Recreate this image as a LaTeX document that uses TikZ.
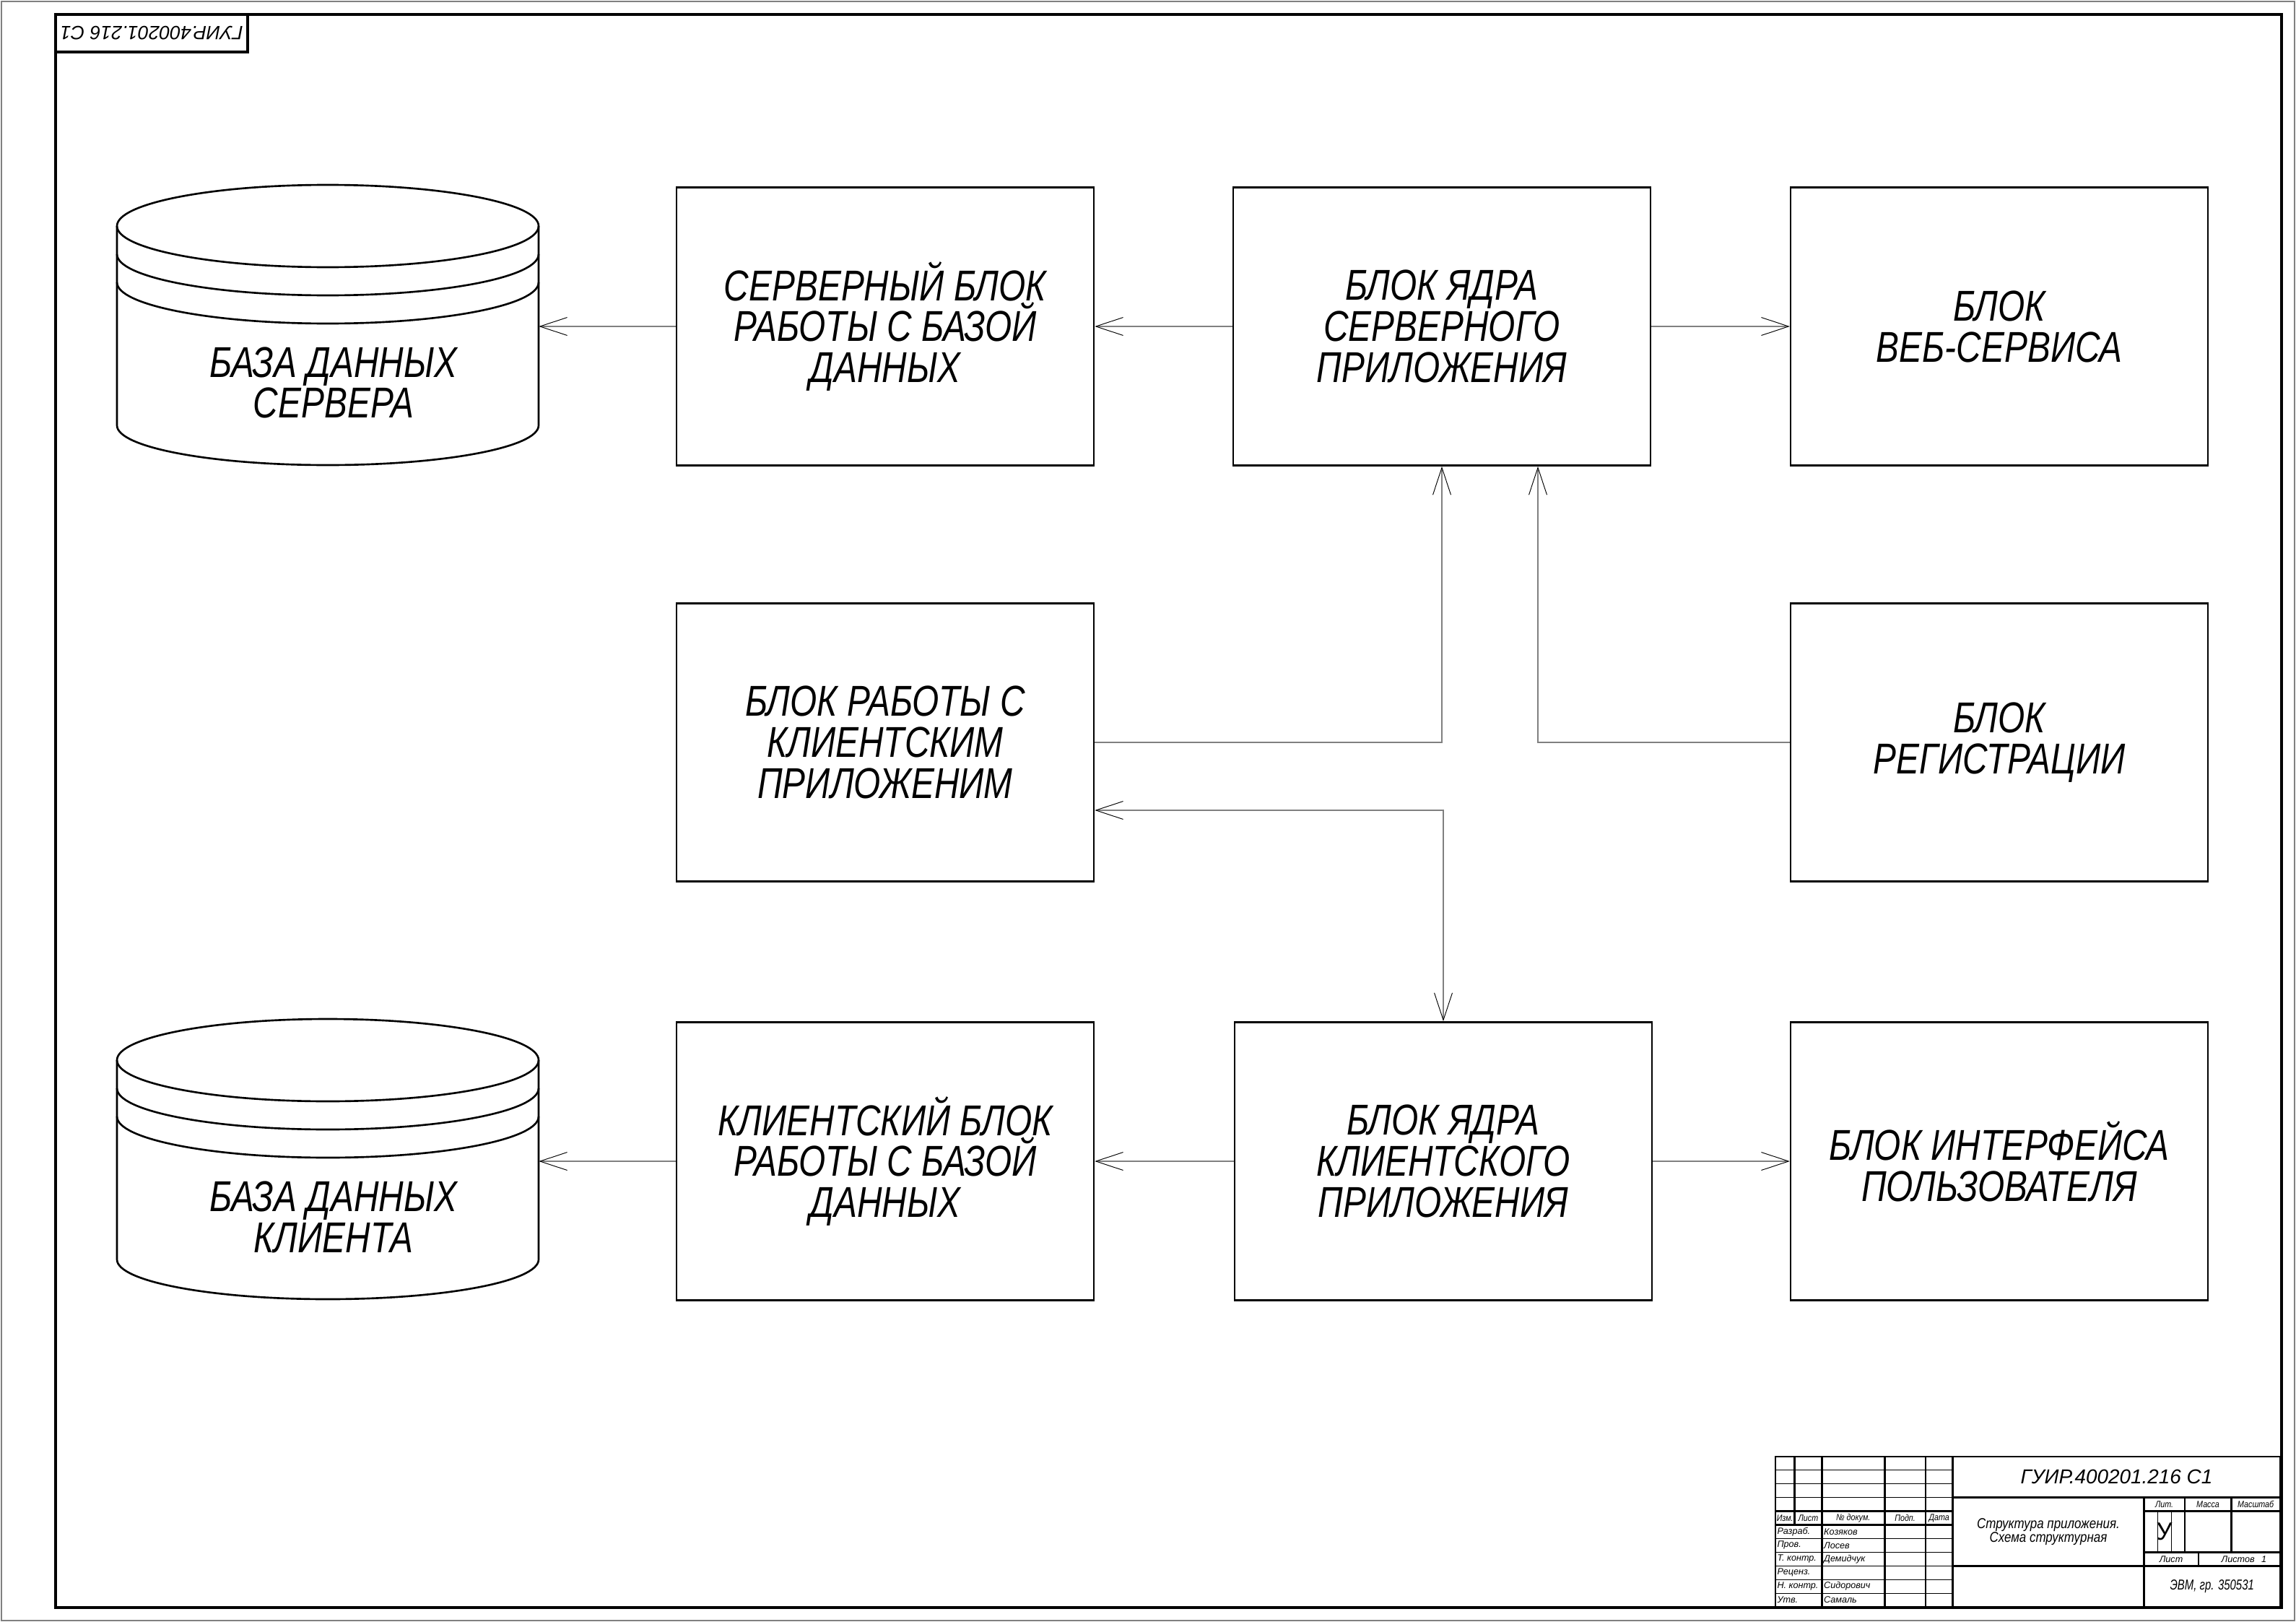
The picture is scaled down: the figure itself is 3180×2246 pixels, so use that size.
\documentclass[tikz,border=0pt]{standalone}
\usepackage{fontspec}
\setmainfont{Liberation Sans}
\newfontfamily\blockfont[FakeStretch=0.8]{Liberation Sans}
\newfontfamily\narrowfont[FakeStretch=0.85]{Liberation Sans}
\newfontfamily\tightfont[FakeStretch=0.75]{Liberation Sans}
\usepackage{tikz}
\usetikzlibrary{arrows.meta, calc}
\tikzset{
  openv/.tip={Straight Barb[length=10mm, width=6.6mm, line width=0.25mm, color=black]},
  block/.style={draw, line width=0.7mm, minimum width=152.9mm, minimum height=101.9mm, inner sep=0pt, align=center, font=\blockfont\itshape\fontsize{45}{42.8}\selectfont},
  dbtext/.style={minimum width=150.3mm, inner sep=0pt, align=center, font=\blockfont\itshape\fontsize{45}{42.8}\selectfont},
  dbline/.style={line width=0.7mm},
  link/.style={draw=gray, line width=0.35mm, -openv},
  duallink/.style={draw=gray, line width=0.35mm, openv-openv},
  thickln/.style={line width=0.7mm},
  thinln/.style={line width=0.25mm},
  cell/.style={inner sep=0.4mm, font=\itshape\fontsize{9.5}{10}\selectfont},
  headcell/.style={inner sep=0.2mm, font=\narrowfont\itshape\fontsize{9.5}{10}\selectfont}
}

\begin{document}
\begin{tikzpicture}[x=0.2646mm, y=-0.2646mm]
\useasboundingbox (0,0) rectangle (3180,2246);
\draw [gray, line width=0.4mm] (2,2) rectangle (3178,2244);
\draw [line width=0.9mm] (77,20) rectangle (3160,2226);
\draw [line width=0.9mm] (77,20) rectangle (343,72);
\node [rotate=180, font=\itshape\fontsize{20}{20}\selectfont] (stampcode) at (210,46) {ГУИР.400201.216 С1};

\node [block] (srvdb) at (1226,452) {СЕРВЕРНЫЙ БЛОК\\РАБОТЫ С БАЗОЙ\\ДАННЫХ};
\node [block] (srvcore) at (1997,452) {БЛОК ЯДРА\\СЕРВЕРНОГО\\ПРИЛОЖЕНИЯ};
\node [block] (websrv) at (2769,452) {БЛОК\\ВЕБ-СЕРВИСА};
\node [block] (cliapp) at (1226,1028) {БЛОК РАБОТЫ С\\КЛИЕНТСКИМ\\ПРИЛОЖЕНИМ};
\node [block] (reg) at (2769,1028) {БЛОК\\РЕГИСТРАЦИИ};
\node [block] (clidb) at (1226,1608) {КЛИЕНТСКИЙ БЛОК\\РАБОТЫ С БАЗОЙ\\ДАННЫХ};
\node [block] (clicore) at (1999,1608) {БЛОК ЯДРА\\КЛИЕНТСКОГО\\ПРИЛОЖЕНИЯ};
\node [block] (ui) at (2769,1608) {БЛОК ИНТЕРФЕЙСА\\ПОЛЬЗОВАТЕЛЯ};

\foreach \dy/\nm/\txt in {0/srvbase/СЕРВЕРА, 1155/clibase/КЛИЕНТА} {
  \draw [dbline] (454,313+\dy) ellipse [x radius=292, y radius=57];
  \draw [dbline] (162,352+\dy) arc [start angle=180, end angle=0, x radius=292, y radius=57];
  \draw [dbline] (162,391+\dy) arc [start angle=180, end angle=0, x radius=292, y radius=57];
  \draw [dbline] (162,313+\dy) -- (162,589+\dy) arc [start angle=180, end angle=0, x radius=292, y radius=55] -- (746,313+\dy);
  \node [dbtext] (\nm) at (462,530+\dy) {БАЗА ДАННЫХ\\\txt};
}

\draw [link] (srvdb.west) -- (srvdb.west -| srvbase.east);
\draw [link] (srvcore.west) -- (srvdb.east);
\draw [link] (srvcore.east) -- (websrv.west);
\draw [link] (cliapp.east) -| (srvcore.south);
\draw [link] (reg.west) -| ($(srvcore.south)+(133,0)$);
\draw [duallink] ($(cliapp.east)+(0,94)$) -| (clicore.north);
\draw [link] (clicore.west) -- (clidb.east);
\draw [link] (clidb.west) -- (clidb.west -| clibase.east);
\draw [link] (clicore.east) -- (ui.west);

\begin{scope}[shift={(2459,2017)}, x=1mm, y=-1mm]
\draw [thickln] (0,0) rectangle (185,55);
\draw [thickln] (7,0) -- (7,25);
\foreach \xx in {17,40,55,65} \draw [thickln] (\xx,0) -- (\xx,55);
\foreach \yy in {5,10,15,30,35,40,45,50} \draw [thinln] (0,\yy) -- (65,\yy);
\draw [thickln] (0,20) -- (65,20);
\draw [thickln] (0,25) -- (65,25);
\draw [thickln] (65,15) -- (185,15);
\draw [thickln] (65,40) -- (185,40);
\draw [thickln] (135,15) -- (135,55);
\draw [thickln] (135,20) -- (185,20);
\draw [thickln] (135,35) -- (185,35);
\draw [thickln] (150,15) -- (150,35);
\draw [thickln] (167,15) -- (167,35);
\draw [thinln] (140,20) -- (140,35);
\draw [thinln] (145,20) -- (145,35);
\draw [thickln] (155,35) -- (155,40);
\node [headcell] (hizm) at (3.5,22.5) {Изм.};
\node [headcell] (hlist) at (12,22.5) {Лист};
\node [headcell] (hdoc) at (28.5,22.5) {№ докум.};
\node [headcell] (hsign) at (47.5,22.5) {Подп.};
\node [headcell] (hdate) at (60,22.5) {Дата};
\foreach \i/\role/\who in {1/Разраб./Козяков, 2/Пров./Лосев, 3/Т. контр./Демидчук, 4/Реценз./{}, 5/Н. контр./Сидорович, 6/Утв./Самаль} {
  \node [cell, anchor=west] (role\i) at (0.2,22.5+5*\i) {\role};
  \node [cell, anchor=west] (who\i) at (17.3,22.5+5*\i) {\who};
}
\node [font=\itshape\fontsize{21}{21}\selectfont] (tbcode) at (125,7.5) {ГУИР.400201.216 С1};
\node [align=center, font=\narrowfont\itshape\fontsize{15}{14}\selectfont] (tbtitle) at (100,27.5) {Структура приложения.\\Схема структурная};
\node [headcell] (hlit) at (142.5,17.5) {Лит.};
\node [headcell] (hmass) at (158.5,17.5) {Масса};
\node [headcell] (hscale) at (176,17.5) {Масштаб};
\node [font=\fontsize{26}{26}\selectfont] (litval) at (142.5,27.5) {У};
\node [cell] (hsheet) at (145,37.5) {Лист};
\node [cell] (hsheets) at (169.5,37.5) {Листов};
\node [cell] (sheetsval) at (179,37.5) {1};
\node [font=\tightfont\itshape\fontsize{15}{15}\selectfont] (tbgroup) at (160,47.5) {ЭВМ, гр. 350531};
\end{scope}
\end{tikzpicture}
\end{document}
